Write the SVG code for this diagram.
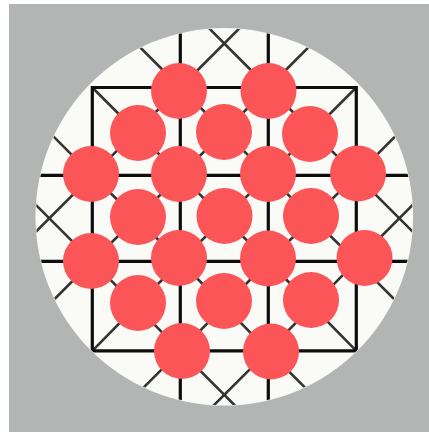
<svg xmlns="http://www.w3.org/2000/svg" width="429" height="432" viewBox="0 0 429 432">
<style>
.ortho{stroke:#0d0d0d;stroke-width:3.2;fill:none;stroke-linecap:square}
.diag{stroke:#333333;stroke-width:2.6;fill:none}
.piece{fill:#fc5558}
</style>
<defs>
<clipPath id="board-clip"><circle cx="224.3" cy="216.8" r="188.3"/></clipPath>
</defs>
<rect width="429" height="432" fill="#ffffff"/>
<rect x="9" y="4" width="420" height="428" fill="#b3b4b4"/>
<circle id="board" cx="224.3" cy="216.8" r="188.8" fill="#fafaf7"/>
<g id="connectors" clip-path="url(#board-clip)">
<path class="diag" d="M80.3,-12.5 L180.3,87.5 L268.3,175.3 L356.3,261.3 L456.3,361.3"/>
<path class="diag" d="M168.3,-12.5 L268.3,87.5 L356.3,175.3 L456.3,275.3"/>
<path class="diag" d="M-7.7,75.3 L92.3,175.3 L180.3,261.3 L268.3,350.8 L368.3,450.8"/>
<path class="diag" d="M-7.7,161.3 L92.3,261.3 L180.3,350.8 L280.3,450.8"/>
<path class="diag" d="M92.3,87.5 L180.3,175.3 L268.3,261.3 L356.3,350.8"/>
<path class="diag" d="M280.3,-12.5 L180.3,87.5 L92.3,175.3 L-7.7,275.3"/>
<path class="diag" d="M368.3,-12.5 L268.3,87.5 L180.3,175.3 L92.3,261.3 L-7.7,361.3"/>
<path class="diag" d="M356.3,87.5 L268.3,175.3 L180.3,261.3 L92.3,350.8"/>
<path class="diag" d="M456.3,75.3 L356.3,175.3 L268.3,261.3 L180.3,350.8 L80.3,450.8"/>
<path class="diag" d="M456.3,161.3 L356.3,261.3 L268.3,350.8 L168.3,450.8"/>
<path class="ortho" d="M92.3,87.5 H356.3 V350.8 H92.3 Z"/>
<path class="ortho" d="M180.3,0 V432 M268.3,0 V432 M0,175.3 H429 M0,261.3 H429"/>
</g>
<g id="p1"><circle class="piece" cx="179" cy="91" r="28"/></g>
<g id="p2"><circle class="piece" cx="268.5" cy="91" r="28"/></g>
<g id="p3"><circle class="piece" cx="138" cy="133" r="28"/></g>
<g id="p4"><circle class="piece" cx="224" cy="132" r="28"/></g>
<g id="p5"><circle class="piece" cx="310" cy="134" r="28"/></g>
<g id="p6"><circle class="piece" cx="91" cy="174" r="28"/></g>
<g id="p7"><circle class="piece" cx="179" cy="174" r="28"/></g>
<g id="p8"><circle class="piece" cx="268" cy="174" r="28"/></g>
<g id="p9"><circle class="piece" cx="358" cy="173.5" r="28"/></g>
<g id="p10"><circle class="piece" cx="138" cy="217" r="28"/></g>
<g id="p11"><circle class="piece" cx="224.5" cy="216" r="28"/></g>
<g id="p12"><circle class="piece" cx="311" cy="216" r="28"/></g>
<g id="p13"><circle class="piece" cx="91" cy="261" r="28"/></g>
<g id="p14"><circle class="piece" cx="179" cy="258" r="28"/></g>
<g id="p15"><circle class="piece" cx="268" cy="258.5" r="28"/></g>
<g id="p16"><circle class="piece" cx="364.5" cy="258" r="28"/></g>
<g id="p17"><circle class="piece" cx="138" cy="303" r="28"/></g>
<g id="p18"><circle class="piece" cx="224" cy="301" r="28"/></g>
<g id="p19"><circle class="piece" cx="311" cy="300" r="28"/></g>
<g id="p20"><circle class="piece" cx="182" cy="351" r="28"/></g>
<g id="p21"><circle class="piece" cx="271" cy="351.5" r="28"/></g>
</svg>
